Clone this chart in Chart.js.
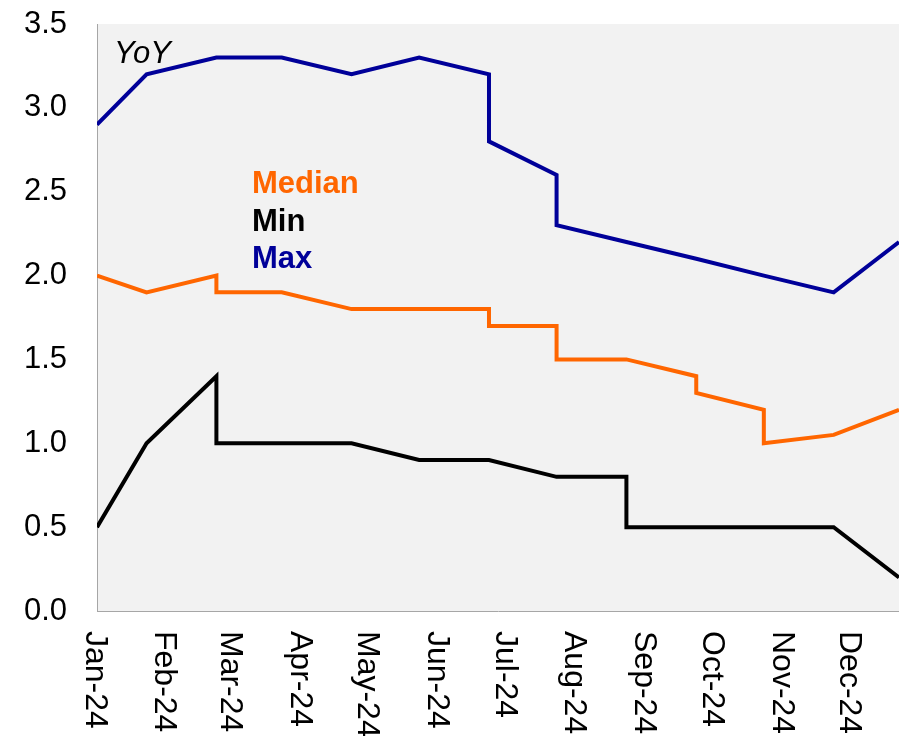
<!DOCTYPE html>
<html>
<head>
<meta charset="utf-8">
<script src="https://cdn.jsdelivr.net/npm/chart.js@4"></script>
<style>
  html, body { margin: 0; padding: 0; background: #ffffff; }
  #wrap { width: 899px; height: 736px; position: relative; }
</style>
</head>
<body>
<div id="wrap"><canvas id="c"></canvas></div>
<script>
// ---- data ----
const surveyDates = ['2024-01-01','2024-01-23','2024-02-23','2024-03-23','2024-04-23','2024-05-23',
                     '2024-06-23','2024-07-23','2024-08-23','2024-09-23','2024-10-23','2024-11-23','2024-12-22'];
// a pair [before, after] means the figure was revised on that date (vertical step)
const medianValues = [2.0, 1.9, [2.0, 1.9], 1.9, 1.8, 1.8, [1.8, 1.7], [1.7, 1.5], 1.5, [1.4, 1.3], [1.2, 1.0], 1.05, 1.2];
const minValues    = [0.5, 1.0, [1.4, 1.0], 1.0, 1.0, 0.9, 0.9, 0.8, [0.8, 0.5], 0.5, 0.5, 0.5, 0.2];
const maxValues    = [2.9, 3.2, 3.3, 3.3, 3.2, 3.3, [3.2, 2.8], [2.6, 2.3], 2.2, 2.1, 2.0, 1.9, 2.2];
const monthLabels  = ['Jan-24','Feb-24','Mar-24','Apr-24','May-24','Jun-24','Jul-24','Aug-24','Sep-24','Oct-24','Nov-24','Dec-24'];
const seriesNames  = ['Median', 'Min', 'Max'];
const yTicks       = [0, 0.5, 1.0, 1.5, 2.0, 2.5, 3.0, 3.5];
const chartNote    = 'YoY';
const tickYear     = 2024;

// ---- helpers ----
const DAY = 86400000;
const origin = Date.parse(surveyDates[0]);
const dayOffset = ms => (ms - origin) / DAY;
const monthStarts = monthLabels.map((_, i) => dayOffset(Date.UTC(tickYear, i, 1)));

function buildPoints(values) {
  const pts = [];
  values.forEach((v, i) => {
    const x = dayOffset(Date.parse(surveyDates[i]));
    (Array.isArray(v) ? v : [v]).forEach(y => pts.push({ x, y }));
  });
  return pts;
}

const FONT = '"Liberation Sans", Arial, Helvetica, sans-serif';
const colors = ['#FF6600', '#000000', '#000099'];
const axisGray = '#A6A6A6';

const bgPlugin = {
  id: 'plotBg',
  beforeDraw(chart) {
    const { ctx, chartArea: a } = chart;
    ctx.save();
    ctx.fillStyle = '#ffffff';
    ctx.fillRect(0, 0, chart.width, chart.height);
    ctx.fillStyle = '#F2F2F2';
    ctx.fillRect(a.left, a.top, a.right - a.left, a.bottom - a.top);
    ctx.restore();
  }
};

const textPlugin = {
  id: 'texts',
  afterDraw(chart) {
    const { ctx, chartArea: a } = chart;
    const xs = chart.scales.x;
    ctx.save();
    // x tick labels, rotated clockwise (read top to bottom)
    const fx = 32;
    ctx.font = fx + 'px ' + FONT;
    ctx.fillStyle = '#000000';
    ctx.textAlign = 'left';
    ctx.textBaseline = 'alphabetic';
    monthLabels.forEach((lab, i) => {
      const px = xs.getPixelForValue(monthStarts[i]);
      ctx.save();
      ctx.translate(px, a.bottom + 20);
      ctx.rotate(Math.PI / 2);
      ctx.fillText(lab, 0, 0.358 * fx);
      ctx.restore();
    });
    // note
    ctx.font = 'italic 31px ' + FONT;
    ctx.fillText(chartNote, a.left + 17, a.top + 39);
    // legend
    ctx.font = 'bold 31px ' + FONT;
    chart.data.datasets.forEach((ds, i) => {
      ctx.fillStyle = ds.borderColor;
      ctx.fillText(ds.label, a.left + 155, a.top + 169 + i * 37.5);
    });
    ctx.restore();
  }
};

const allValues = [medianValues, minValues, maxValues];

new Chart(document.getElementById('c'), {
  type: 'line',
  data: {
    datasets: allValues.map((vals, i) => ({
      label: seriesNames[i],
      data: buildPoints(vals),
      borderColor: colors[i],
      backgroundColor: colors[i],
      borderWidth: 4,
      pointRadius: 0,
      tension: 0,
      fill: false,
      borderJoinStyle: 'miter'
    }))
  },
  options: {
    responsive: true,
    maintainAspectRatio: false,
    animation: false,
    layout: { padding: { top: 24, left: 0, right: 0, bottom: 125 } },
    plugins: { legend: { display: false }, tooltip: { enabled: false } },
    scales: {
      x: {
        type: 'linear',
        min: 0,
        max: dayOffset(Date.parse(surveyDates[surveyDates.length - 1])),
        afterBuildTicks: s => { s.ticks = monthStarts.map(v => ({ value: v })); },
        afterFit: s => { s.height = 0; s.paddingLeft = 0; s.paddingRight = 0; },
        grid: { display: false, drawTicks: false },
        border: { display: true, color: axisGray, width: 1 },
        ticks: { display: false }
      },
      y: {
        min: 0,
        max: 3.5,
        afterBuildTicks: s => { s.ticks = yTicks.map(v => ({ value: v })); },
        afterFit: s => { s.width = 97; s.paddingTop = 0; s.paddingBottom = 0; },
        grid: { display: false, drawTicks: false },
        border: { display: true, color: axisGray, width: 1 },
        ticks: {
          padding: 30,
          color: '#000000',
          font: { family: FONT, size: 31 },
          callback: v => Number(v).toFixed(1)
        }
      }
    }
  },
  plugins: [bgPlugin, textPlugin]
});
</script>
</body>
</html>
